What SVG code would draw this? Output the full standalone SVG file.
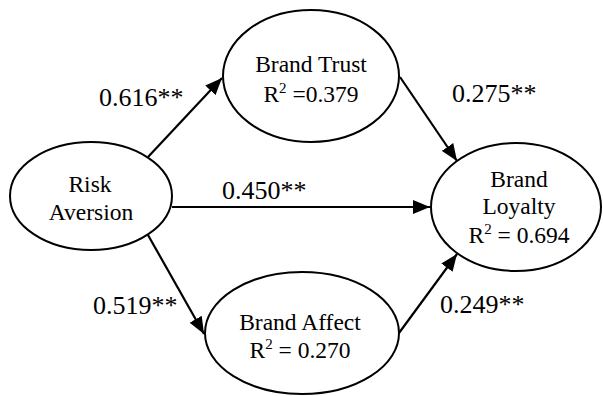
<svg xmlns="http://www.w3.org/2000/svg" width="603" height="396" viewBox="0 0 603 396">
<style>
.node{fill:#fff;stroke:#000;stroke-width:2}
.t{font-family:"Liberation Serif","Times New Roman",serif;font-size:23.5px;text-anchor:middle;fill:#000}
.lbl{font-family:"Liberation Serif","Times New Roman",serif;font-size:26px;fill:#000}
.sup{font-size:15px}
.edge{stroke:#000;stroke-width:2.2;fill:none;marker-end:url(#ah)}
</style>
<defs>
<marker id="ah" markerUnits="userSpaceOnUse" markerWidth="18" markerHeight="14" viewBox="0 0 18 14" refX="17" refY="7" orient="auto">
<path d="M0,0 L17,7 L0,14 Z" fill="#000"/>
</marker>
</defs>
<g id="connectors">
<line class="edge" x1="148" y1="157" x2="222" y2="78"/>
<line class="edge" x1="400" y1="77" x2="457" y2="161"/>
<line class="edge" x1="172" y1="207" x2="430" y2="207"/>
<line class="edge" x1="148" y1="235" x2="204" y2="334"/>
<line class="edge" x1="399" y1="333" x2="457" y2="254"/>
<text class="lbl" x="99" y="106">0.616**</text>
<text class="lbl" x="452" y="102">0.275**</text>
<text class="lbl" x="222" y="199">0.450**</text>
<text class="lbl" x="93" y="314">0.519**</text>
<text class="lbl" x="440" y="313">0.249**</text>
</g>
<g id="risk-aversion">
<ellipse class="node" cx="91" cy="196" rx="81" ry="54"/>
<text class="t" x="90" y="192">Risk</text>
<text class="t" x="91" y="220">Aversion</text>
</g>
<g id="brand-trust">
<ellipse class="node" cx="311" cy="76" rx="88" ry="66"/>
<text class="t" x="311" y="72">Brand Trust</text>
<text class="t" x="311" y="102">R<tspan class="sup" dy="-9">2</tspan><tspan dy="9"> =0.379</tspan></text>
</g>
<g id="brand-loyalty">
<ellipse class="node" cx="516" cy="207" rx="85" ry="64"/>
<text class="t" x="519" y="187">Brand</text>
<text class="t" x="519" y="214">Loyalty</text>
<text class="t" x="519" y="243">R<tspan class="sup" dy="-9">2</tspan><tspan dy="9"> = 0.694</tspan></text>
</g>
<g id="brand-affect">
<ellipse class="node" cx="302" cy="333" rx="97" ry="61"/>
<text class="t" x="300" y="330">Brand Affect</text>
<text class="t" x="300" y="358">R<tspan class="sup" dy="-9">2</tspan><tspan dy="9"> = 0.270</tspan></text>
</g>
</svg>
